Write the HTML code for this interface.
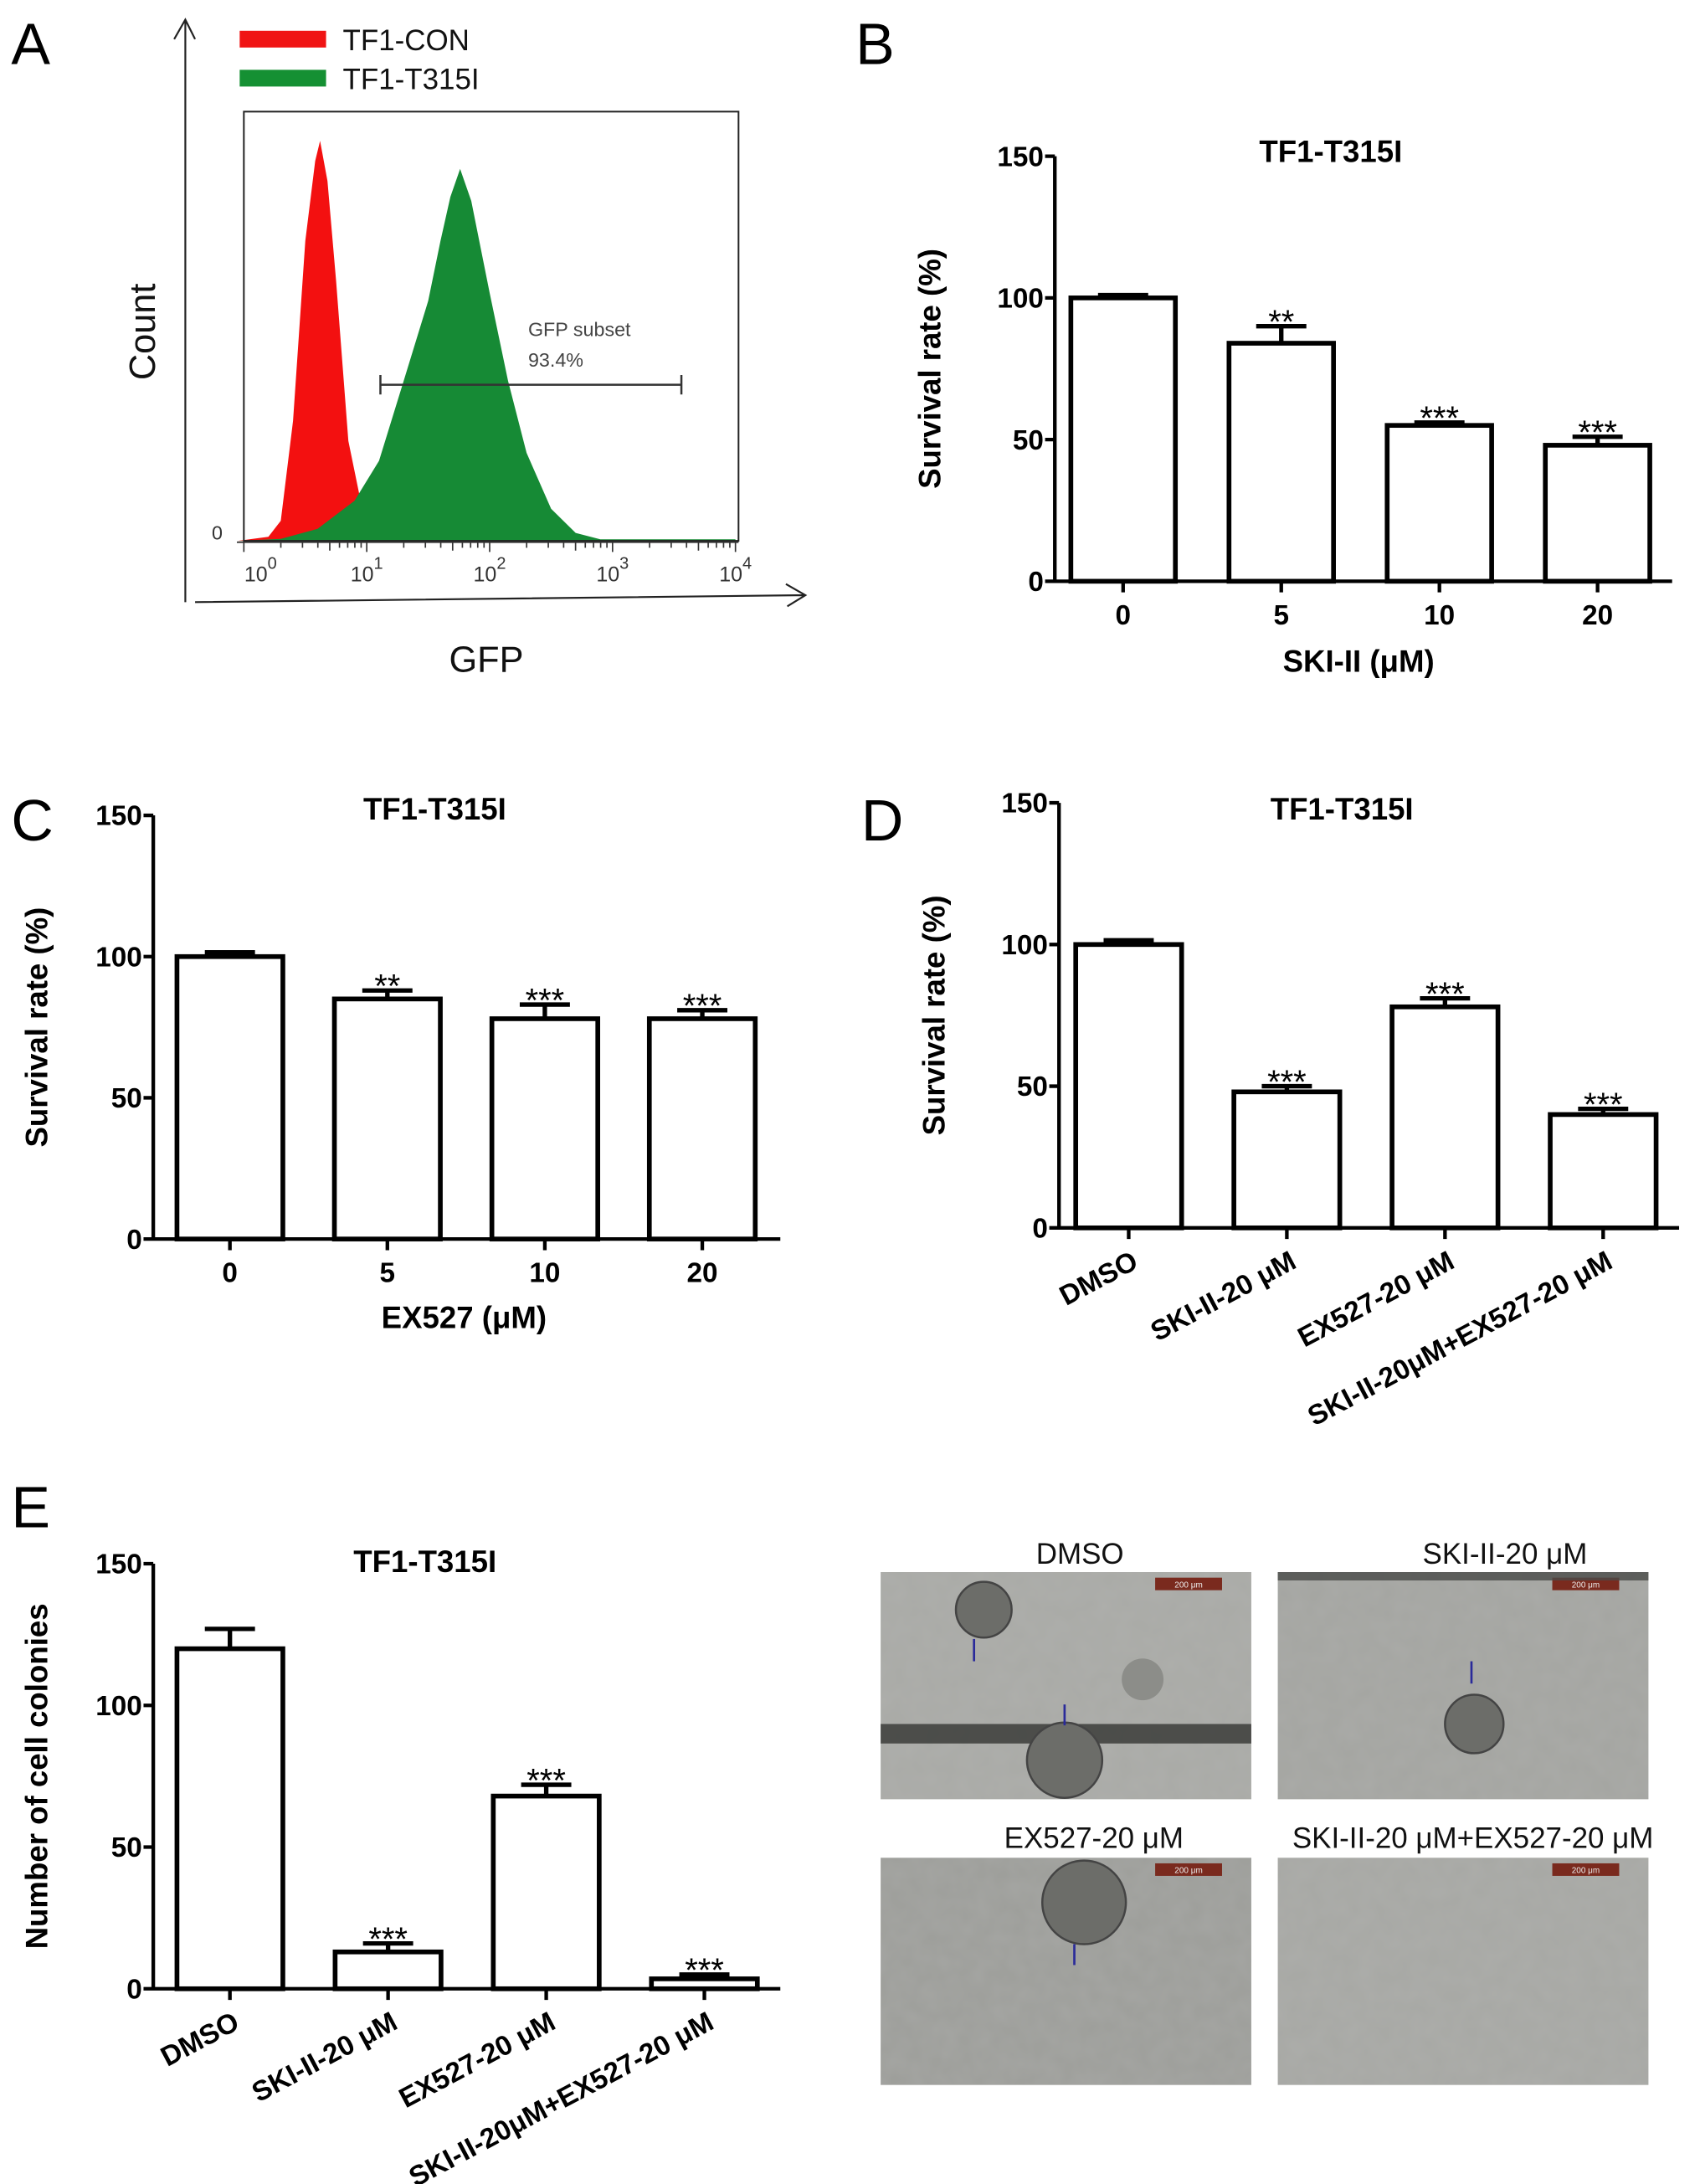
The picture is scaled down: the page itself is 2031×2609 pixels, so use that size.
<!DOCTYPE html>
<html><head><meta charset="utf-8"><style>
html,body{margin:0;padding:0;background:#fff;}
svg{display:block;font-family:"Liberation Sans","DejaVu Sans",sans-serif;}
</style></head><body>
<svg id="fig" width="2031" height="2609" viewBox="0 0 1220 1567" xmlns="http://www.w3.org/2000/svg">
<defs>
<filter id="noise" x="0" y="0" width="100%" height="100%"><feTurbulence type="fractalNoise" baseFrequency="0.08" numOctaves="2" seed="3"/><feColorMatrix type="matrix" values="0 0 0 0 0.5  0 0 0 0 0.5  0 0 0 0 0.5  0 0 0 0.25 0"/></filter>
</defs>
<g id="panelA"></g>
<g id="panelB"></g>
<g id="panelC"></g>
<g id="panelD"></g>
<g id="panelE"></g>
<g id="photos"></g>
</svg>
<script>
// ---------- data ----------
const redLog = [-0.05,0.2,0.3,0.4,0.5,0.58,0.62,0.68,0.75,0.85,0.95,1.02,4];
const redCount = [0,0.01,0.05,0.3,0.75,0.95,1.0,0.9,0.65,0.25,0.1,0.0,0];
const greenLog = [-0.05,0.3,0.6,0.9,1.1,1.3,1.5,1.6,1.68,1.76,1.85,2.0,2.15,2.3,2.5,2.7,2.9,4];
const greenCount = [0,0.005,0.03,0.1,0.2,0.4,0.6,0.75,0.86,0.93,0.85,0.62,0.4,0.22,0.08,0.02,0.004,0.004];
const decadeTicks = [0,1,2,3,4];

const bCats = ["0","5","10","20"];
const bVals = [100,84,55,48];
const bErr = [1,6,1,3];
const bStars = ["","**","***","***"];

const cCats = ["0","5","10","20"];
const cVals = [100,85,78,78];
const cErr = [1.5,3,5,3];
const cStars = ["","**","***","***"];

const dCats = ["DMSO","SKI-II-20 μM","EX527-20 μM","SKI-II-20μM+EX527-20 μM"];
const dVals = [100,48,78,40];
const dErr = [1.5,2,3,2];
const dStars = ["","***","***","***"];

const eCats = ["DMSO","SKI-II-20 μM","EX527-20 μM","SKI-II-20μM+EX527-20 μM"];
const eVals = [120,13,68,3.5];
const eErr = [7,3,4,1.5];
const eStars = ["","***","***","***"];

const yTicks = [0,50,100,150];
// ---------- helpers ----------
const NS="http://www.w3.org/2000/svg";
function mk(parent,tag,attrs,text){const e=document.createElementNS(NS,tag);for(const k in attrs)e.setAttribute(k,attrs[k]);if(text!==undefined)e.textContent=text;parent.appendChild(e);return e;}

// ---------- Panel A ----------
(function(){
 const g=document.getElementById('panelA');
 const x0=175, dec=88.2, base=388, h=287;
 const sx=l=>x0+l*dec, sy=c=>base-c*h;
 let t=mk(g,'text',{x:8,y:46,'font-size':42},'A');
 
 let a=mk(g,'path',{d:'M133,432 L133,14 M125,28 L133,14 L140,28',fill:'none',stroke:'#222','stroke-width':1.3});
 
 a=mk(g,'path',{d:'M140,432 L578,427 M564,419 L578,427 L565,435',fill:'none',stroke:'#222','stroke-width':1.3});
 
 let r=mk(g,'rect',{x:172,y:22,width:62,height:12,fill:'#f01414'});
 
 t=mk(g,'text',{x:246,y:36,'font-size':21,fill:'#111'},'TF1-CON');
 
 r=mk(g,'rect',{x:172,y:50,width:62,height:12,fill:'#159033'});
 
 t=mk(g,'text',{x:246,y:64,'font-size':21,fill:'#111'},'TF1-T315I');
 
 function area(L,C,fill,name){let d='M'+sx(L[0])+','+base;for(let i=0;i<L.length;i++)d+=' L'+sx(L[i]).toFixed(1)+','+sy(C[i]).toFixed(1);d+=' L'+sx(L[L.length-1])+','+base+' Z';
  const p=mk(g,'path',{d:d,fill:fill});}
 area(redLog,redCount,'#f31010','histogram-tf1-con');
 area(greenLog,greenCount,'#168a35','histogram-tf1-t315i');
 r=mk(g,'rect',{x:175,y:80,width:355,height:308,fill:'none',stroke:'#222','stroke-width':1.2});
 
 let d='M170,389 L530,389';
 decadeTicks.forEach(k=>{d+=` M${sx(k)},389 L${sx(k)},396`;if(k<4)for(let m=2;m<10;m++){const xx=sx(k+Math.log10(m));d+=` M${xx},389 L${xx},${m==5?395:393}`;}});
 a=mk(g,'path',{d:d,stroke:'#333','stroke-width':1,fill:'none'});
 
 decadeTicks.forEach(k=>{const tt=mk(g,'text',{x:sx(k)+(k==0?12:0),y:417,'font-size':15,'text-anchor':'middle',fill:'#333'});
  tt.innerHTML='10<tspan dy="-9" font-size="12">'+k+'</tspan>';
  });
 t=mk(g,'text',{x:152,y:387,'font-size':14,fill:'#333'},'0');
 
 a=mk(g,'path',{d:'M273,276 L489,276 M273,269 L273,283 M489,269 L489,283',stroke:'#333','stroke-width':1.5,fill:'none'});
 
 t=mk(g,'text',{x:379,y:241,'font-size':14,fill:'#444'},'GFP subset');
 
 t=mk(g,'text',{x:379,y:263,'font-size':14,fill:'#444'},'93.4%');
 
 t=mk(g,'text',{x:0,y:0,'font-size':26,'text-anchor':'middle',transform:'translate(111,238) rotate(-90)',fill:'#111'},'Count');
 
 t=mk(g,'text',{x:349,y:482,'font-size':26,'text-anchor':'middle',fill:'#111'},'GFP');
 
})();

// ---------- bar chart ----------
function barChart(id,cfg){
 const g=document.getElementById(id);
 const sy=v=>cfg.y0-(v/150)*(cfg.y0-cfg.y150);
 const bw=cfg.bw, xs=i=>cfg.x1+i*cfg.step;
 let t=mk(g,'text',{x:cfg.lx,y:cfg.ly,'font-size':42},cfg.letter);
 
 t=mk(g,'text',{x:cfg.tx,y:cfg.ty,'font-size':22,'font-weight':'bold','text-anchor':'middle'},'TF1-T315I');
 
 t=mk(g,'text',{x:0,y:0,'font-size':22,'font-weight':'bold','text-anchor':'middle',transform:`translate(${cfg.ylx},${(cfg.y0+cfg.y150)/2}) rotate(-90)`},cfg.ytitle);
 
 let d=`M${cfg.ax},${cfg.y150} L${cfg.ax},${cfg.y0} L${cfg.xend},${cfg.y0}`;
 yTicks.forEach(v=>{d+=` M${cfg.ax-7},${sy(v)} L${cfg.ax},${sy(v)}`;});
 cfg.cats.forEach((c,i)=>{d+=` M${xs(i)},${cfg.y0} L${xs(i)},${cfg.y0+8}`;});
 let p=mk(g,'path',{d:d,stroke:'#000','stroke-width':2.6,fill:'none'});
 
 yTicks.forEach(v=>{const tt=mk(g,'text',{x:cfg.ax-8,y:sy(v)+7,'font-size':20,'font-weight':'bold','text-anchor':'end'},String(v));
  });
 cfg.vals.forEach((v,i)=>{
  const cx=xs(i);
  const e=mk(g,'path',{d:`M${cx},${sy(v)} L${cx},${sy(v+cfg.err[i])} M${cx-18},${sy(v+cfg.err[i])} L${cx+18},${sy(v+cfg.err[i])}`,stroke:'#000','stroke-width':3.2,fill:'none'});
  
  const r=mk(g,'rect',{x:cx-bw/2,y:sy(v),width:bw,height:cfg.y0-sy(v),fill:'#fff',stroke:'#000','stroke-width':3.4});
  
  if(cfg.stars[i]){const s=mk(g,'text',{x:cx,y:sy(v+cfg.err[i])+5,'font-size':24,'text-anchor':'middle'},cfg.stars[i]);
   }
 });
 cfg.cats.forEach((c,i)=>{
  let tt;
  if(cfg.rot) tt=mk(g,'text',{x:0,y:0,'font-size':20,'font-weight':'bold','text-anchor':'end',transform:`translate(${xs(i)+8},${cfg.y0+28}) rotate(-28)`},c);
  else tt=mk(g,'text',{x:xs(i),y:cfg.y0+31,'font-size':20,'font-weight':'bold','text-anchor':'middle'},c);
  
 });
 if(cfg.xtitle){const tt=mk(g,'text',{x:cfg.xtx,y:cfg.xty,'font-size':22,'font-weight':'bold','text-anchor':'middle'},cfg.xtitle);
  }
}
barChart('panelB',{letter:'B',lx:614,ly:46,tx:955,ty:116,ytitle:'Survival rate (%)',ylx:675,ax:757,y0:417,y150:112,xend:1200,x1:806,step:113.5,bw:75,cats:bCats,vals:bVals,err:bErr,stars:bStars,xtitle:'SKI-II (μM)',xtx:975,xty:482});
barChart('panelC',{letter:'C',lx:8,ly:603,tx:312,ty:588,ytitle:'Survival rate (%)',ylx:34,ax:110,y0:889,y150:585,xend:560,x1:165,step:113,bw:76,cats:cCats,vals:cVals,err:cErr,stars:cStars,xtitle:'EX527 (μM)',xtx:333,xty:953});
barChart('panelD',{letter:'D',lx:618,ly:603,tx:963,ty:588,ytitle:'Survival rate (%)',ylx:678,ax:760,y0:881,y150:576,xend:1205,x1:810,step:113.5,bw:76,cats:dCats,vals:dVals,err:dErr,stars:dStars,rot:true});
barChart('panelE',{letter:'E',lx:8,ly:1096,tx:305,ty:1128,ytitle:'Number of cell colonies',ylx:34,ax:110,y0:1427,y150:1122,xend:560,x1:165,step:113.5,bw:76,cats:eCats,vals:eVals,err:eErr,stars:eStars,rot:true});

// ---------- photos ----------
(function(){
 const g=document.getElementById('photos');
 const ph=[{x:632,y:1128,t:'DMSO',tx:775,ty:1122},{x:917,y:1128,t:'SKI-II-20 μM',tx:1080,ty:1122},{x:632,y:1333,t:'EX527-20 μM',tx:785,ty:1326},{x:917,y:1333,t:'SKI-II-20 μM+EX527-20 μM',tx:1057,ty:1326}];
 const cols=['#a9aaa6','#a4a5a1','#9d9e9a','#a7a8a4'];
 ph.forEach((p,i)=>{
  const r=mk(g,'rect',{x:p.x,y:p.y,width:266,height:163,fill:cols[i]});
  
  mk(g,'rect',{x:p.x,y:p.y,width:266,height:163,filter:'url(#noise)'});
  const sb=mk(g,'rect',{x:p.x+197,y:p.y+4,width:48,height:9,fill:'#7a2a1e'});
  
  mk(g,'text',{x:p.x+221,y:p.y+11,'font-size':6,'text-anchor':'middle',fill:'#eee'},'200 μm');
  const t=mk(g,'text',{x:p.tx,y:p.ty,'font-size':21,'text-anchor':'middle',fill:'#111'},p.t);
  
 });
 mk(g,'rect',{x:632,y:1237,width:266,height:14,fill:'#3b3c3a',opacity:0.85});
 mk(g,'rect',{x:917,y:1128,width:266,height:6,fill:'#4a4b49',opacity:0.8});
 [[706,1155,20],[764,1263,27],[1058,1237,21],[778,1365,30]].forEach(c=>{
  const e=mk(g,'circle',{cx:c[0],cy:c[1],r:c[2],fill:'#6c6d69',stroke:'#444','stroke-width':1.5});
  });
 mk(g,'circle',{cx:820,cy:1205,r:15,fill:'#8c8d89'});
 [[699,1192,699,1176],[764,1223,764,1238],[1056,1192,1056,1208],[771,1410,771,1395]].forEach(a=>{
  const l=mk(g,'line',{x1:a[0],y1:a[1],x2:a[2],y2:a[3],stroke:'#2a2a9a','stroke-width':1.6});
  });
})();
</script>
</body></html>
